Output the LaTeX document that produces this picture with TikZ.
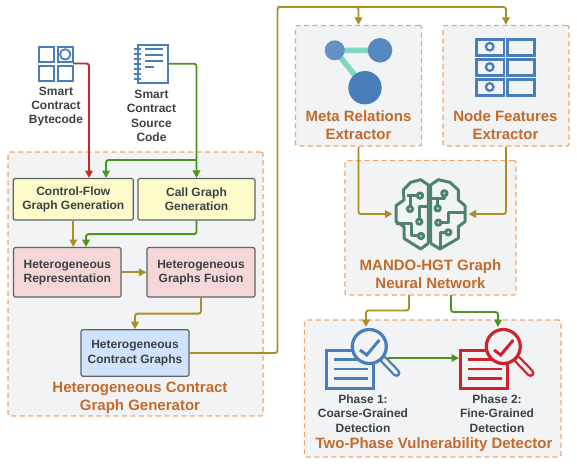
\documentclass[tikz,border=0pt]{standalone}
\usepackage{fontspec}
\setmainfont{Liberation Sans}
\usepackage{xcolor}
\usetikzlibrary{arrows.meta,calc}
\definecolor{groupbg}{HTML}{F1F3F5}
\definecolor{groupline}{HTML}{F2A468}
\definecolor{headtext}{HTML}{C46A2B}
\definecolor{bodytext}{HTML}{3C4146}
\definecolor{boxline}{HTML}{5F6368}
\definecolor{boxyellow}{HTML}{FDFBC9}
\definecolor{boxpink}{HTML}{F5D7D7}
\definecolor{boxblue}{HTML}{D1E2FD}
\definecolor{olive}{HTML}{A98F28}
\definecolor{leaf}{HTML}{4F9220}
\definecolor{brick}{HTML}{D0222A}
\definecolor{iconblue}{HTML}{4A7EBB}
\definecolor{iconteal}{HTML}{7FD8BF}
\definecolor{icongreen}{HTML}{4F8270}
\tikzset{
  groupbox/.style={draw=groupline,fill=groupbg,line width=1.2pt,dash pattern=on 5pt off 3.5pt,rounded corners=2pt,inner sep=0pt},
  stagebox/.style={draw=boxline,line width=1.2pt,rounded corners=2pt,inner sep=0pt,align=center,text=bodytext,font=\bfseries\fontsize{12}{14.3}\selectfont},
  caption/.style={align=center,inner sep=0pt,text=bodytext,font=\bfseries\fontsize{12}{14.3}\selectfont},
  headline/.style={align=center,inner sep=0pt,text=headtext,font=\bfseries\fontsize{15}{18}\selectfont},
  iconspot/.style={inner sep=0pt,outer sep=0pt},
  flow/.style={line width=1.9pt,rounded corners=2.5pt,-{Triangle[length=7.5pt,width=7.5pt]}}
}
\newcommand{\reporticon}[2]{%
  \begin{scope}[shift={(#1,0)},draw=#2]
    \draw[line width=3.2pt,fill=groupbg] (1.5,350.5) rectangle (48.5,388.5);
    \draw[line width=2.8pt] (8.5,359.3) -- (42.5,359.3) (8.5,369) -- (42.5,369) (8.5,378.7) -- (42.5,378.7);
    \draw[line width=8pt,line cap=round] (58.5,359.5) -- (71.5,373);
    \draw[line width=3.4pt,line cap=round,groupbg] (58.5,359.5) -- (71.5,373);
    \draw[line width=3.2pt,fill=groupbg] (44.3,346.5) circle (17);
    \draw[line width=3pt] (35,350) -- (41.7,355) -- (54.3,340);
  \end{scope}}
\begin{document}
\begin{tikzpicture}[x=1pt,y=-1pt]
  \useasboundingbox (0,0) rectangle (577,466);

  \node[groupbox,minimum width=255pt,minimum height=264pt] (generator) at (135.5,284) {};
  \node[groupbox,minimum width=126pt,minimum height=120.5pt] (metabox) at (358.5,85.7) {};
  \node[groupbox,minimum width=126pt,minimum height=120.5pt] (featbox) at (506,85.7) {};
  \node[groupbox,minimum width=171pt,minimum height=134.5pt] (mando) at (430.5,227.7) {};
  \node[groupbox,minimum width=256.5pt,minimum height=137pt] (detector) at (432.7,388.5) {};

  \node[stagebox,fill=boxyellow,minimum width=120pt,minimum height=41.5pt] (cfg) at (73.3,199.3) {Control-Flow\\Graph Generation};
  \node[stagebox,fill=boxyellow,minimum width=117pt,minimum height=41.5pt] (call) at (196.5,199.3) {Call Graph\\Generation};
  \node[stagebox,fill=boxpink,minimum width=107.5pt,minimum height=49.5pt] (repr) at (67.3,272.3) {Heterogeneous\\Representation};
  \node[stagebox,fill=boxpink,minimum width=108pt,minimum height=49.5pt] (fusion) at (201,272.3) {Heterogeneous\\Graphs Fusion};
  \node[stagebox,fill=boxblue,minimum width=108pt,minimum height=46.5pt] (hcg) at (135,353) {Heterogeneous\\Contract Graphs};

  \node[iconspot,minimum width=35pt,minimum height=35pt] (byteicon) at (55.5,63.5) {};
  \node[iconspot,minimum width=31.6pt,minimum height=39.3pt] (srcicon) at (152.5,63.7) {};
  \node[iconspot,minimum width=76pt,minimum height=72pt] (brain) at (430.5,214) {};
  \node[iconspot,minimum width=63pt,minimum height=10pt] (phaseone) at (356.5,358) {};
  \node[iconspot,minimum width=63pt,minimum height=10pt] (phasetwo) at (490.5,358) {};

  \draw[iconblue,line width=2pt] (38.8,46.8) rectangle (54,62) (57.5,46.8) rectangle (72.7,62) (38.8,65.5) rectangle (54,80.7) (57.5,65.5) rectangle (72.7,80.7);
  \draw[iconblue,line width=1.8pt] (65.2,54.4) circle (5.2);

  \draw[iconblue,line width=2pt,fill=white] (137.5,44.8) rectangle (167.7,82.7);
  \draw[iconblue,line width=1.7pt] (133.5,49) -- (141,49) (133.5,54) -- (141,54) (133.5,59) -- (141,59) (133.5,64) -- (141,64) (133.5,69) -- (141,69) (133.5,74) -- (141,74) (133.5,79) -- (141,79);
  \draw[iconblue,line width=1.8pt] (145,49) -- (163.3,49) (145,55) -- (163.3,55) (145,61) -- (163.3,61) (145,67) -- (154,67);

  \draw[iconteal,line width=5.5pt] (334.7,50.3) -- (380,50.3) (334.7,50.3) -- (365,87.7);
  \fill[iconblue!85!white] (334.7,50.3) circle (10);
  \fill[iconblue!93!white] (380,50.3) circle (12.3);
  \fill[iconblue] (365,87.7) circle (16.7);

  \draw[iconblue,line width=2.5pt] (476.5,39.5) rectangle (504,55.3) (507.5,39.5) rectangle (534.5,55.3) (476.5,59.5) rectangle (504,75.3) (507.5,59.5) rectangle (534.5,75.3) (476.5,79.5) rectangle (504,95.3) (507.5,79.5) rectangle (534.5,95.3);
  \draw[iconblue,line width=2.3pt] (489.7,46.7) circle (3.8) (489.7,67) circle (3.8) (489.7,87) circle (3.8);

  \begin{scope}[shift={(390,175)},x=0.3333pt,y=-0.3333pt,icongreen,line width=3pt,line join=round]
    \draw (115,205) -- (115,30) -- (92,14) -- (62,22) -- (40,45) -- (42,75) -- (18,92) -- (18,140) -- (42,155) -- (42,190) -- (92,222) -- (115,205);
    \draw (122,205) -- (122,30) -- (145,14) -- (180,22) -- (205,45) -- (205,75) -- (225,92) -- (225,140) -- (205,155) -- (205,190) -- (150,222) -- (122,205);
    \draw (82,62) -- (60,62) -- (60,94) (52,62) -- (60,62);
    \draw (60,102) circle (8) (90,62) circle (8);
    \draw (88,132) -- (88,95) -- (115,95);
    \draw (88,140) circle (8);
    \draw (85,183) -- (65,183) -- (65,145) -- (18,145);
    \draw (93,183) circle (8);
    \draw (163,63) -- (163,70) -- (122,70) (143,92) -- (143,70);
    \draw (163,55) circle (8) (143,100) circle (8);
    \draw (153,143) -- (175,143) -- (175,113) -- (225,113);
    \draw (145,143) circle (8);
    \draw (167,172) -- (150,172) -- (150,222);
    \draw (175,172) circle (8);
  \end{scope}

  \reporticon{325}{iconblue}
  \reporticon{459}{brick}

  \node[caption] (bytetext) at (56,106.5) {Smart\\Contract\\Bytecode};
  \node[caption] (srctext) at (151.5,116) {Smart\\Contract\\Source\\Code};
  \node[headline] (gentitle) at (140,397.5) {Heterogeneous Contract\\Graph Generator};
  \node[headline] (metatitle) at (358.5,125) {Meta Relations\\Extractor};
  \node[headline] (feattitle) at (505.5,125) {Node Features\\Extractor};
  \node[headline] (mandotitle) at (430.5,274.5) {MANDO-HGT Graph\\Neural Network};
  \node[caption] (onetext) at (363,413.5) {Phase 1:\\Coarse-Grained\\Detection};
  \node[caption] (twotext) at (497,413.5) {Phase 2:\\Fine-Grained\\Detection};
  \node[headline] (dettitle) at (434,445) {Two-Phase Vulnerability Detector};

  \coordinate (redin) at (89,178);
  \coordinate (split) at (196.5,160);
  \coordinate (greenin) at (106,178);
  \coordinate (reprin) at (86,247);
  \coordinate (reprtop) at (73.3,247);
  \coordinate (topbend) at (277.5,7);
  \coordinate (oneout) at (409,295);
  \coordinate (twoout) at (451,295);
  \coordinate (onein) at (366,327);
  \coordinate (twoin) at (498,327);

  \draw[flow,brick] (byteicon.east) -| (redin);
  \draw[flow,leaf] (srcicon.east) -| (call.north);
  \draw[flow,leaf] (split) -| (greenin);
  \draw[flow,olive] (cfg.south) -- (reprtop);
  \draw[flow,leaf] (call.south) -- ++(0,13.5) -| (reprin);
  \draw[flow,olive] (repr.east) -- (fusion.west);
  \draw[flow,olive] (fusion.south) -- ++(0,16) -| (hcg.north);
  \draw[flow,olive] (hcg.east) -| (topbend) -| (featbox.north);
  \draw[flow,olive] (topbend) -| (metabox.north);
  \draw[flow,olive] (metabox.south) |- (brain.west);
  \draw[flow,olive] (featbox.south) |- (brain.east);
  \draw[flow,olive] (oneout) -- ++(0,15.5) -| (onein);
  \draw[flow,leaf] (twoout) -- ++(0,17) -| (twoin);
  \draw[flow,leaf] (phaseone.east) -- (phasetwo.west);
\end{tikzpicture}
\end{document}
